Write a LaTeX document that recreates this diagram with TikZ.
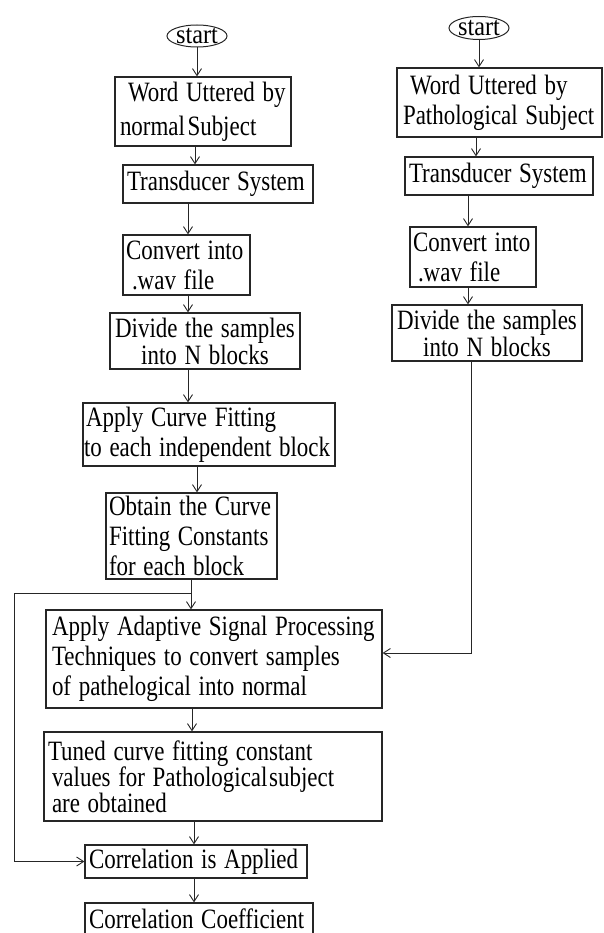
\documentclass[tikz,border=0pt]{standalone}
\usepackage{fontspec}
\usepackage{graphicx}
\setmainfont{Liberation Serif}
\newcommand\sqz[1]{\scalebox{0.82}[1]{#1}}
\usetikzlibrary{arrows.meta,shapes.geometric}
\begin{document}
\begin{tikzpicture}[x=1pt,y=-1pt,
  every node/.style={font=\fontsize{28}{30}\selectfont, text=black},
  box/.style={draw=black!85, line width=1.2pt, rectangle, inner ysep=0pt, align=left},
  oval/.style={draw=black!85, line width=1pt, ellipse, inner sep=0pt, minimum width=60pt, minimum height=22pt},
  arr/.style={draw=black!85, line width=0.9pt, -{Straight Barb[length=7pt,width=9pt]}}]
\useasboundingbox (0,0) rectangle (603,933);
\clip (0,0) rectangle (603,933);
% left column
\node[oval, font=\fontsize{27}{28}\selectfont] (L0) at (197,36) {\scalebox{0.9}[1]{start}};
\node[box, minimum width=176pt, minimum height=69pt, inner xsep=5pt, text width=166pt, font=\fontsize{28}{34}\selectfont] (L1) at (203,111.5) {\hspace*{8pt}\sqz{Word Uttered by}\\\sqz{normal\kern3pt Subject}};
\node[box, minimum width=190pt, minimum height=38pt, inner xsep=4pt, text width=182pt] (L2) at (218,184) {\sqz{Transducer System}};
\node[box, minimum width=127pt, minimum height=60pt, inner xsep=3pt, text width=121pt] (L3) at (186.5,265) {\sqz{Convert into}\\\hspace*{6pt}\sqz{.wav file}};
\node[box, minimum width=190pt, minimum height=56pt, inner xsep=4pt, text width=182pt, align=center, font=\fontsize{28}{27}\selectfont] (L4) at (205,341) {\sqz{Divide the samples}\\\sqz{into N blocks}};
\node[box, minimum width=252pt, minimum height=63pt, inner xsep=1pt, text width=250pt] (L5) at (209,434.5) {\hspace*{2pt}\sqz{Apply Curve Fitting}\\\sqz{to each independent block}};
\node[box, minimum width=171pt, minimum height=86pt, inner xsep=3pt, text width=165pt] (L6) at (191.5,536) {\sqz{Obtain the Curve}\\\sqz{Fitting Constants}\\\sqz{for each block}};
\node[box, minimum width=336pt, minimum height=98pt, inner xsep=6pt, text width=324pt] (L7) at (214,659) {\sqz{Apply Adaptive Signal Processing}\\\sqz{Techniques to convert samples}\\\sqz{of pathelogical into normal}};
\node[box, minimum width=338pt, minimum height=89pt, inner xsep=4pt, text width=330pt, font=\fontsize{28}{26}\selectfont] (L8) at (213,776.5) {\sqz{Tuned curve fitting constant}\\\hspace*{4pt}\sqz{values for Pathological\kern2pt subject}\\\hspace*{4pt}\sqz{are obtained}};
\node[box, minimum width=222pt, minimum height=33pt, inner xsep=4pt, text width=214pt] (L9) at (196,861.5) {\sqz{Correlation is Applied}};
\node[box, minimum width=228pt, minimum height=32pt, inner xsep=4pt, text width=220pt] (L10) at (199,919) {\sqz{Correlation Coefficient}};
% right column
\node[oval, minimum height=23pt, font=\fontsize{27}{28}\selectfont] (R0) at (479,28) {\scalebox{0.9}[1]{start}};
\node[box, minimum width=205pt, minimum height=69pt, inner xsep=6pt, text width=193pt] (R1) at (499.5,102.5) {\hspace*{7pt}\sqz{Word Uttered by}\\\sqz{Pathological Subject}};
\node[box, minimum width=188pt, minimum height=38pt, inner xsep=4pt, text width=180pt] (R2) at (499,176) {\sqz{Transducer System}};
\node[box, minimum width=126pt, minimum height=60pt, inner xsep=3pt, text width=120pt] (R3) at (473,257) {\sqz{Convert into}\\\hspace*{5pt}\sqz{.wav file}};
\node[box, minimum width=190pt, minimum height=56pt, inner xsep=4pt, text width=182pt, align=center, font=\fontsize{28}{27}\selectfont] (R4) at (487,333) {\sqz{Divide the samples}\\\sqz{into N blocks}};
% column coordinates
\coordinate (c195) at (195,0);
\coordinate (c188) at (188,0);
\coordinate (c197) at (197,0);
\coordinate (c192) at (192,0);
\coordinate (c194) at (194,0);
\coordinate (c476) at (476,0);
\coordinate (c468) at (468,0);
\coordinate (J) at (191,593);
\coordinate (Lft) at (14,593);
\coordinate (K) at (471,653);
% connectors left
\draw[arr] (L0.south) -- (L1.north -| L0.south);
\draw[arr] (L1.south -| c195) -- (L2.north -| c195);
\draw[arr] (L2.south -| c188) -- (L3.north -| c188);
\draw[arr] (L3.south -| c188) -- (L4.north -| c188);
\draw[arr] (L4.south -| c188) -- (L5.north -| c188);
\draw[arr] (L5.south -| c197) -- (L6.north -| c197);
\draw[arr] (L6.south -| J) -- (L7.north -| J);
\draw[arr] (J) -- (Lft) |- (L9.west);
\draw[arr] (L7.south -| c192) -- (L8.north -| c192);
\draw[arr] (L8.south -| c194) -- (L9.north -| c194);
\draw[arr] (L9.south -| c194) -- (L10.north -| c194);
% connectors right
\draw[arr] (R0.south) -- (R1.north -| R0.south);
\draw[arr] (R1.south -| c476) -- (R2.north -| c476);
\draw[arr] (R2.south -| c468) -- (R3.north -| c468);
\draw[arr] (R3.south -| c468) -- (R4.north -| c468);
\draw[arr] (R4.south -| K) -- (K) -- (L7.east |- K);
\end{tikzpicture}
\end{document}
